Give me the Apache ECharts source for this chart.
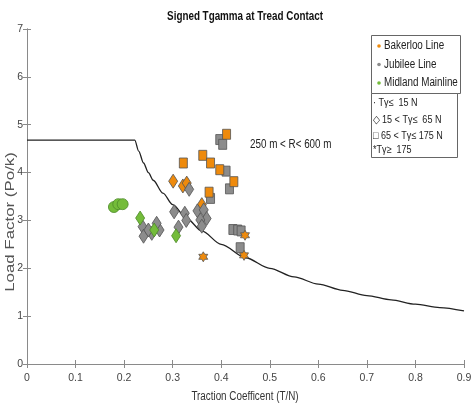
<!DOCTYPE html>
<html>
<head>
<meta charset="utf-8">
<script src="https://cdn.jsdelivr.net/npm/echarts@6/dist/echarts.min.js"></script>
<style>html,body{margin:0;padding:0;background:#fff}#c{width:471px;height:406px}</style>
</head>
<body>
<div id="c"></div>
<script>
// ---- data ----
var xTicks = [0, 0.1, 0.2, 0.3, 0.4, 0.5, 0.6, 0.7, 0.8, 0.9];
var yTicks = [0, 1, 2, 3, 4, 5, 6, 7];
var limitCurve = [[0,4.68],[0.222,4.68],[0.23,4.45],[0.24,4.20],[0.25,4.00],[0.26,3.84],[0.28,3.57],[0.30,3.33],[0.33,3.03],[0.36,2.78],[0.40,2.50],[0.45,2.22],[0.50,2.00],[0.55,1.82],[0.60,1.67],[0.65,1.54],[0.70,1.43],[0.75,1.34],[0.80,1.25],[0.85,1.18],[0.90,1.11]];
var bakerlooSquares = [[0.411,4.80],[0.362,4.36],[0.322,4.20],[0.378,4.20],[0.397,4.06],[0.426,3.81],[0.375,3.59]];
var bakerlooDiamonds = [[0.301,3.82],[0.321,3.72],[0.329,3.78],[0.360,3.33]];
var bakerlooStars = [[0.449,2.69],[0.447,2.27],[0.363,2.24]];
var jubileeSquares = [[0.397,4.69],[0.403,4.59],[0.410,4.03],[0.417,3.66],[0.378,3.46],[0.424,2.81],[0.434,2.80],[0.441,2.78],[0.439,2.43]];
var jubileeDiamonds = [[0.334,3.65],[0.351,3.20],[0.364,3.22],[0.370,3.04],[0.357,3.01],[0.360,2.88],[0.303,3.18],[0.325,3.15],[0.328,3.00],[0.312,2.86],[0.273,2.80],[0.238,2.87],[0.240,2.67],[0.257,2.73],[0.267,2.94],[0.250,2.80]];
var midlandDiamonds = [[0.233,3.05],[0.262,2.80],[0.307,2.68]];
var midlandCircles = [[0.179,3.28],[0.188,3.34],[0.197,3.34]];
var lineNames = ['Bakerloo Line', 'Jubilee Line', 'Midland Mainline'];
var forceLabels = ['\u00b7 T\u03b3\u2264  15 N', '\u25c7 15 < T\u03b3\u2264  65 N', '\u25a1 65 < T\u03b3\u2264 175 N', '*T\u03b3\u2265  175'];
var annotation = '250 m < R< 600 m';
var titleText = 'Signed Tgamma at Tread Contact';
var xName = 'Traction Coefficent (T/N)';
var yName = 'Load Factor (Po/k)';

// ---- styles ----
var FONT = '"Liberation Sans", Arial, sans-serif';
var NARROW_SCALE = 0.82;
var ORANGE = '#EE8A0C', GRAY = '#8C8C8C', GREEN = '#74BC3A';
var EDGE = '#555555';
var LINE_COLORS = [ORANGE, GRAY, GREEN];
var STAR = 'path://M0 -1 L0.289 -0.5 L0.866 -0.5 L0.577 0 L0.866 0.5 L0.289 0.5 L0 1 L-0.289 0.5 L-0.866 0.5 L-0.577 0 L-0.866 -0.5 L-0.289 -0.5 Z';

function scat(name, data, symbol, size, color, edge, z) {
  return {
    name: name, type: 'scatter', data: data, symbol: symbol, symbolSize: size,
    itemStyle: { color: color, borderColor: edge, borderWidth: 0.8, opacity: 1 },
    z: z, silent: true
  };
}
function ntext(x, y, text, size, opts) {
  opts = opts || {};
  return {
    type: 'text', x: x, y: y, scaleX: opts.scaleX || NARROW_SCALE, rotation: opts.rotation || 0, z: 100,
    style: { text: text, x: 0, y: 0, fontFamily: FONT, fontSize: size,
      fontWeight: opts.bold ? 'bold' : 'normal', fill: opts.color || '#222',
      textAlign: opts.align || 'left', textVerticalAlign: 'middle' }
  };
}

var graphics = [];
graphics.push(ntext(245, 17, titleText, 12, { bold: true, align: 'center', color: '#111' }));
graphics.push(ntext(250, 145, annotation, 12));
graphics.push(ntext(245, 397, xName, 12, { align: 'center', color: '#333' }));
graphics.push(ntext(10, 222, yName, 13.5, { align: 'center', color: '#555', rotation: Math.PI / 2, scaleX: 1.25 }));
// legend box 1 (lines)
graphics.push({ type: 'rect', z: 99, shape: { x: 371.5, y: 35.5, width: 89, height: 58 },
  style: { fill: '#fff', stroke: '#666', lineWidth: 1 } });
var rowY1 = [46, 64.5, 83];
lineNames.forEach(function (n, i) {
  graphics.push({ type: 'circle', z: 100, shape: { cx: 379, cy: rowY1[i], r: 1.8 }, style: { fill: LINE_COLORS[i] } });
  graphics.push(ntext(384, rowY1[i], n, 12));
});
// legend box 2 (force classes)
graphics.push({ type: 'rect', z: 99, shape: { x: 371.5, y: 93.5, width: 86, height: 64 },
  style: { fill: '#fff', stroke: '#666', lineWidth: 1 } });
var rowY2 = [103, 119.5, 135.5, 150];
forceLabels.forEach(function (t, i) { graphics.push(ntext(373, rowY2[i], t, 11)); });

var axisLineStyle = { color: '#8a8a8a', width: 1 };
var chart = echarts.init(document.getElementById('c'), null, { renderer: 'canvas' });
chart.setOption({
  animation: false,
  backgroundColor: '#fff',
  grid: { left: 27, right: 7, top: 29, bottom: 42, containLabel: false, outerBoundsMode: 'none' },
  xAxis: [{
    type: 'value', min: xTicks[0], max: xTicks[xTicks.length - 1], interval: 0.1,
    axisLine: { lineStyle: axisLineStyle },
    axisTick: { inside: true, length: 4, lineStyle: axisLineStyle },
    axisLabel: { fontFamily: FONT, fontSize: 10.5, color: '#444', margin: 9 },
    splitLine: { show: false }
  }, {
    type: 'value', position: 'top', min: 0, max: 0.9, interval: 0.1,
    axisLine: { lineStyle: axisLineStyle },
    axisTick: { inside: true, length: 4, lineStyle: axisLineStyle },
    axisLabel: { show: false }, splitLine: { show: false }
  }],
  yAxis: [{
    type: 'value', min: yTicks[0], max: yTicks[yTicks.length - 1], interval: 1,
    axisLine: { show: true, lineStyle: axisLineStyle },
    axisTick: { show: true, inside: true, length: 4, lineStyle: axisLineStyle },
    axisLabel: { fontFamily: FONT, fontSize: 10.5, color: '#444', margin: 4 },
    splitLine: { show: false }
  }, {
    type: 'value', position: 'right', min: 0, max: 7, interval: 1,
    axisLine: { show: true, lineStyle: axisLineStyle },
    axisTick: { show: true, inside: true, length: 4, lineStyle: axisLineStyle },
    axisLabel: { show: false }, splitLine: { show: false }
  }],
  graphic: graphics,
  series: [
    { name: 'limit', type: 'line', data: limitCurve, showSymbol: false, smooth: 0.3, smoothMonotone: 'x',
      lineStyle: { color: '#222', width: 1.3 }, z: 1, silent: true },
    scat('Jubilee Line', jubileeSquares, 'rect', [8, 10], GRAY, EDGE, 2),
    scat('Bakerloo Line', bakerlooSquares, 'rect', [8, 10], ORANGE, EDGE, 3),
    scat('Bakerloo Line', bakerlooDiamonds, 'diamond', [9, 14], ORANGE, EDGE, 4),
    scat('Jubilee Line', jubileeDiamonds, 'diamond', [9, 14], GRAY, EDGE, 5),
    scat('Bakerloo Line', bakerlooStars, STAR, [9, 10], ORANGE, EDGE, 6),
    scat('Midland Mainline', midlandDiamonds, 'diamond', [9, 14], GREEN, '#4d8a2a', 7),
    scat('Midland Mainline', midlandCircles, 'circle', 11, GREEN, '#4d8a2a', 8)
  ]
});
</script>
</body>
</html>
